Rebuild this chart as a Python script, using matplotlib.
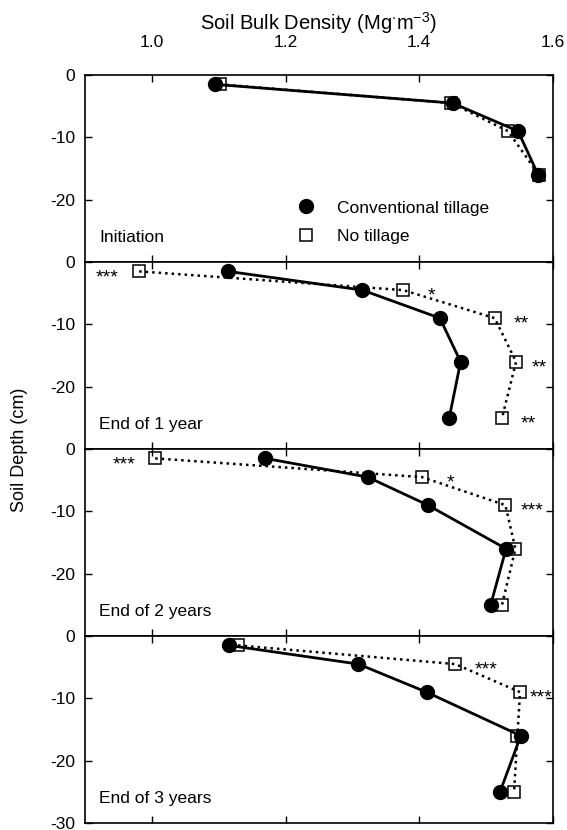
import matplotlib
matplotlib.use('Agg')
import matplotlib.pyplot as plt
from matplotlib.lines import Line2D

plt.rcParams['font.family'] = ['Liberation Sans', 'DejaVu Sans']
plt.rcParams['mathtext.default'] = 'regular'
plt.rcParams['axes.unicode_minus'] = False

# depths (cm, negative downward)
depth = [-1.5, -4.5, -9, -16, -25]

panel_names = ['Initiation', 'End of 1 year', 'End of 2 years', 'End of 3 years']

# bulk density, conventional tillage
ct_init = [1.095, 1.450, 1.548, 1.578]
ct_y1 = [1.114, 1.315, 1.431, 1.462, 1.445]
ct_y2 = [1.170, 1.323, 1.413, 1.530, 1.507]
ct_y3 = [1.115, 1.309, 1.411, 1.552, 1.521]

# bulk density, no tillage
nt_init = [1.102, 1.448, 1.533, 1.579]
nt_y1 = [0.981, 1.376, 1.513, 1.545, 1.524]
nt_y2 = [1.005, 1.404, 1.529, 1.544, 1.524]
nt_y3 = [1.129, 1.454, 1.551, 1.547, 1.542]

ct_all = [ct_init, ct_y1, ct_y2, ct_y3]
nt_all = [nt_init, nt_y1, nt_y2, nt_y3]

# significance marks: (x, depth, text)
sig_y1 = [(0.933, -1.5, '***'), (1.419, -4.5, '*'), (1.553, -9, '**'),
          (1.579, -16, '**'), (1.563, -25, '**')]
sig_y2 = [(0.958, -1.5, '***'), (1.447, -4.5, '*'), (1.569, -9, '***')]
sig_y3 = [(1.500, -4.5, '***'), (1.582, -9, '***')]
sig_all = [[], sig_y1, sig_y2, sig_y3]

fig, axes = plt.subplots(4, 1, figsize=(5.67, 8.30), dpi=100, sharex=True)
plt.subplots_adjust(left=0.150, right=0.975, top=0.9096, bottom=0.0084, hspace=0)

for i, ax in enumerate(axes):
    ct = ct_all[i]
    nt = nt_all[i]
    d = depth[:len(ct)]
    ax.plot(nt, d, color='black', linestyle=(0, (1, 1.6)), lw=1.8,
            marker='s', markersize=8.5, markerfacecolor='none',
            markeredgecolor='black', markeredgewidth=1.1, zorder=2)
    ax.plot(ct, d, color='black', linestyle='-', lw=2.0,
            marker='o', markersize=10, markerfacecolor='black',
            markeredgecolor='black', zorder=3)
    for x, y, s in sig_all[i]:
        ax.text(x, y - 1.0, s, ha='center', va='center', fontsize=14)
    ax.text(0.03, 0.13, panel_names[i], transform=ax.transAxes,
            ha='left', va='center', fontsize=12.5)
    ax.set_xlim(0.9, 1.6)
    ax.set_ylim(-30, 0)
    ax.set_xticks([1.0, 1.2, 1.4, 1.6])
    if i < 3:
        ax.set_yticks([0, -10, -20])
    else:
        ax.set_yticks([0, -10, -20, -30])
    ax.tick_params(direction='in', length=5, width=1, top=True, right=True,
                   labelsize=12.5, labelbottom=False, labeltop=(i == 0))
    ax.tick_params(axis='y', pad=7)
    for sp in ax.spines.values():
        sp.set_linewidth(1.2)

axes[0].tick_params(axis='x', pad=18)
axes[0].set_xticklabels(['1.0', '1.2', '1.4', '1.6'])
axes[0].xaxis.set_label_position('top')
axes[0].set_xlabel('Soil Bulk Density (Mg$^{\\cdot}$m$^{-3}$)', fontsize=14.5, labelpad=4)

handles = [Line2D([], [], color='black', marker='o', linestyle='none', markersize=10),
           Line2D([], [], color='black', marker='s', linestyle='none', markersize=8.5,
                  markerfacecolor='none', markeredgewidth=1.1)]
axes[0].legend(handles, ['Conventional tillage', 'No tillage'], frameon=False,
               loc='center left', bbox_to_anchor=(0.402, 0.214), fontsize=12.5,
               handletextpad=0.8, labelspacing=0.75)

fig.text(0.035, 0.458, 'Soil Depth (cm)', rotation=90, ha='center', va='center', fontsize=13)

fig.savefig('out.png', dpi=100)
